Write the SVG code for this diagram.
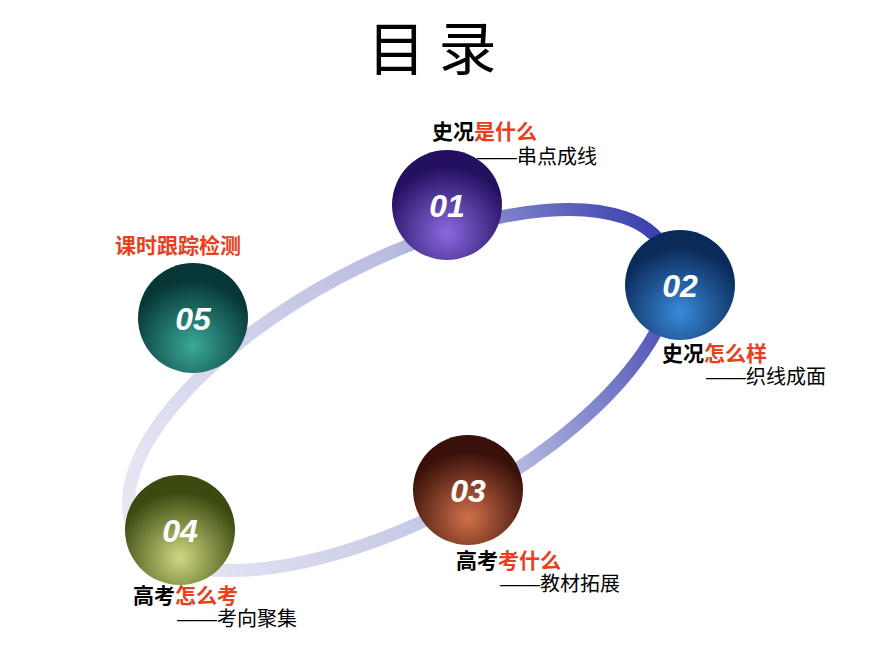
<svg xmlns="http://www.w3.org/2000/svg" width="870" height="653" viewBox="0 0 870 653">
<defs>
<linearGradient id="ring" x1="0" y1="0" x2="1" y2="0" gradientUnits="objectBoundingBox">
<stop offset="0" stop-color="#e8e8f4"/><stop offset="0.6" stop-color="#b8bce0"/><stop offset="1" stop-color="#3c40b0"/>
</linearGradient>
<radialGradient id="g1" cx="0.5" cy="0.75" r="0.6"><stop offset="0" stop-color="#8a6ae0"/><stop offset="1" stop-color="#241060"/></radialGradient>
<radialGradient id="g2" cx="0.5" cy="0.75" r="0.6"><stop offset="0" stop-color="#3a8ad8"/><stop offset="1" stop-color="#0a2a5a"/></radialGradient>
<radialGradient id="g3" cx="0.5" cy="0.75" r="0.6"><stop offset="0" stop-color="#d0704a"/><stop offset="1" stop-color="#3a100a"/></radialGradient>
<radialGradient id="g4" cx="0.5" cy="0.75" r="0.6"><stop offset="0" stop-color="#d0d880"/><stop offset="1" stop-color="#3a4a10"/></radialGradient>
<radialGradient id="g5" cx="0.5" cy="0.75" r="0.6"><stop offset="0" stop-color="#3aa898"/><stop offset="1" stop-color="#063636"/></radialGradient>
</defs>
<style>
.num{font-family:"Liberation Sans",Arial,sans-serif;font-size:32px;font-weight:bold;font-style:italic;fill:#fff;text-anchor:middle}
.lab{font-family:"Liberation Sans","Noto Sans CJK SC",sans-serif;font-size:21px;font-weight:bold;fill:#000}
.red{fill:#e8401c}
.sub{font-family:"Liberation Sans","Noto Sans CJK SC",sans-serif;font-size:20px;fill:#000}
</style>
<rect width="870" height="653" fill="#fff"/>
<text x="432" y="70" font-family="'Noto Sans CJK SC',sans-serif" font-size="58" text-anchor="middle">目 录</text>
<g id="connectors">
<ellipse cx="400" cy="390" rx="300" ry="128" transform="rotate(-28 400 390)" fill="none" stroke="url(#ring)" stroke-width="13"/>
</g>
<g id="n1"><circle cx="447" cy="205" r="55" fill="url(#g1)"/><text class="num" x="447" y="217">01</text>
<text class="lab" x="432" y="139">史况<tspan class="red">是什么</tspan></text><text class="sub" x="477" y="164">——串点成线</text></g>
<g id="n2"><circle cx="680" cy="285" r="55" fill="url(#g2)"/><text class="num" x="680" y="297">02</text>
<text class="lab" x="662" y="361">史况<tspan class="red">怎么样</tspan></text><text class="sub" x="706" y="384">——织线成面</text></g>
<g id="n3"><circle cx="468" cy="490" r="55" fill="url(#g3)"/><text class="num" x="468" y="502">03</text>
<text class="lab" x="456" y="568">高考<tspan class="red">考什么</tspan></text><text class="sub" x="500" y="591">——教材拓展</text></g>
<g id="n4"><circle cx="180" cy="530" r="55" fill="url(#g4)"/><text class="num" x="180" y="542">04</text>
<text class="lab" x="133" y="603">高考<tspan class="red">怎么考</tspan></text><text class="sub" x="177" y="626">——考向聚集</text></g>
<g id="n5"><circle cx="193" cy="318" r="55" fill="url(#g5)"/><text class="num" x="193" y="330">05</text>
<text class="lab red" x="115" y="253">课时跟踪检测</text></g>
</svg>
